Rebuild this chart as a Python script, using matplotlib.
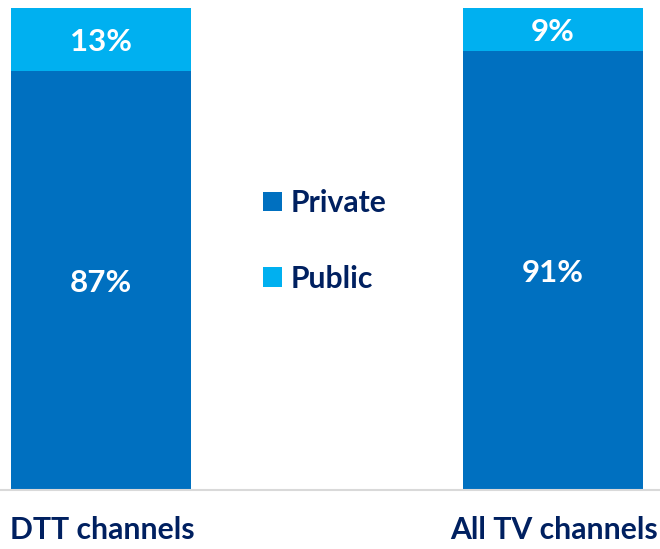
import matplotlib
matplotlib.use("Agg")
import matplotlib.pyplot as plt
from matplotlib.transforms import offset_copy

categories = ["DTT channels", "All TV channels"]
private = [87, 91]
public = [13, 9]
series_names = ["Private", "Public"]

C_PRIV = "#0070C0"
C_PUB = "#00B0F0"
NAVY = "#002060"
FONT = "Lato"

fig = plt.figure(figsize=(6.6, 5.49), dpi=100)
ax = fig.add_axes([0, 59/549, 1, 482/549])
x = list(range(len(categories)))
w = 0.4
b1 = ax.bar(x, private, width=w, color=C_PRIV, label=series_names[0])
b2 = ax.bar(x, public, width=w, bottom=private, color=C_PUB, label=series_names[1])

tr = offset_copy(ax.transData, fig=fig, x=0, y=-2, units="points")
for i in x:
    ax.text(i, private[i] / 2, f"{private[i]}%", ha="center", va="center",
            color="white", fontsize=22.5, fontweight="bold", family=FONT, transform=tr)
    ax.text(i, private[i] + public[i] / 2, f"{public[i]}%", ha="center", va="center",
            color="white", fontsize=22.5, fontweight="bold", family=FONT, transform=tr)

ax.set_xlim(-101/452, 559/452)
ax.set_ylim(0, 100)
ax.axis("off")
ax.axhline(0, color="#d9d9d9", lw=1.5, xmin=0, xmax=1, clip_on=False)

fig.text(10/660, 1 - 530/549, categories[0], ha="left", va="center",
         color=NAVY, fontsize=21.7, fontweight="bold", family=FONT)
fig.text(658/660, 1 - 530/549, categories[1], ha="right", va="center",
         color=NAVY, fontsize=21.7, fontweight="bold", family=FONT)

leg = fig.legend(handles=[b1, b2], loc="center", bbox_to_anchor=(325/660, 1 - 241/549),
                 frameon=False, handlelength=0.62, handleheight=0.62, handletextpad=0.3,
                 labelspacing=1.58, prop={"family": FONT, "weight": "bold", "size": 21.7})
for t in leg.get_texts():
    t.set_color(NAVY)

fig.savefig("out.png", dpi=100)
